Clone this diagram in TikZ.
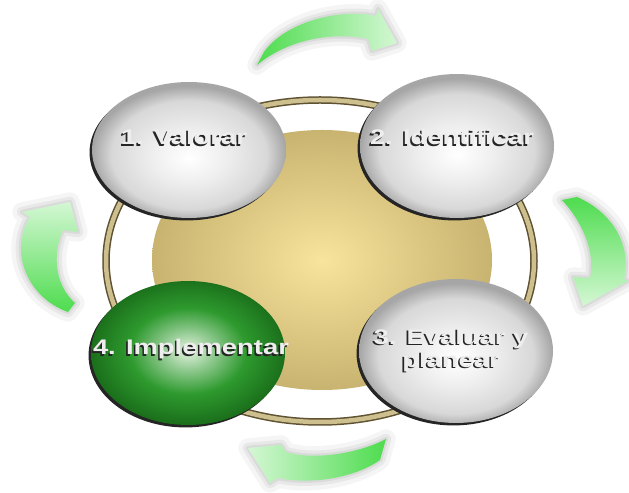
\documentclass[tikz,border=0pt]{standalone}
\usepackage{fontspec}
\newfontfamily\lblfont[FakeStretch=1.3]{Liberation Sans}
\usetikzlibrary{shapes.geometric, calc}
\definecolor{cyGold}{HTML}{F8E49C}
\definecolor{cyGoldDark}{HTML}{C8B370}
\definecolor{cyRim}{HTML}{CDBF8E}
\definecolor{cyRimDark}{HTML}{5E5232}
\definecolor{cyGreen}{HTML}{2E9A2E}
\definecolor{cyGreenDark}{HTML}{1B701B}
\definecolor{cyGreenLight}{HTML}{E6F3E0}
\definecolor{cyGray}{HTML}{D8D8D8}
\definecolor{cyGrayDark}{HTML}{A6A6A6}
\definecolor{cyArrow}{HTML}{4EDC4E}
\definecolor{cyArrowPale}{HTML}{D4F7D4}
\definecolor{cyText}{HTML}{EEEEEE}
\definecolor{cyShadow}{HTML}{252525}
\pgfdeclareradialshading{grayball}{\pgfpoint{0bp}{-3bp}}{color(0bp)=(white); color(10bp)=(cyGray!45!white); color(20bp)=(cyGray); color(25bp)=(cyGrayDark); color(50bp)=(cyGrayDark)}
\pgfdeclareradialshading{greenball}{\pgfpoint{0bp}{1bp}}{color(0bp)=(cyGreenLight); color(7bp)=(cyGreen!55!white); color(15bp)=(cyGreen); color(25bp)=(cyGreenDark); color(50bp)=(cyGreenDark)}
\newcommand\shtext[1]{\rlap{\kern-0.9pt\raisebox{-0.9pt}{\textcolor{cyShadow}{#1}}}#1}
\tikzset{
  ball/.style={ellipse, shade, minimum width=3.88cm, minimum height=2.88cm, inner sep=0pt,
    preaction={fill=cyShadow, transform canvas={xshift=-1.4pt, yshift=-1.4pt}}},
  ballGray/.style={ball, shading=grayball},
  ballGreen/.style={ball, shading=greenball},
  lbl/.style={font=\lblfont\bfseries\fontsize{12}{11}\selectfont, text=cyText,
    align=center, inner sep=0pt},
  rimEdge/.style={draw=cyRimDark, line width=0.15cm},
  rimBand/.style={draw=cyRim, line width=0.09cm},
  cyclearrow/.style={
    preaction={draw=black, opacity=0.04, line width=11pt, line join=round},
    preaction={draw=black, opacity=0.05, line width=6pt, line join=round},
    preaction={draw=black, opacity=0.06, line width=2.5pt, line join=round}}
}
\begin{document}
\begin{tikzpicture}[x=0.02cm, y=0.02cm]
  \fill[white] (0,0) rectangle (629,493);
  \useasboundingbox (0,0) rectangle (629,493);

  % rim and hub
  \draw[rimEdge] (320,232) ellipse (214 and 161);
  \draw[rimBand] (320,232) ellipse (214 and 161);
  \shade[inner color=cyGold, outer color=cyGoldDark] (322,233) ellipse (170 and 130);

  % cycle arrows
  \shade[cyclearrow, left color=cyArrow, right color=cyArrowPale]
    (257,428) -- (264,441) .. controls (285,471) and (340,485) .. (376,477)
    -- (378,484) -- (397,450) -- (372,442) -- (368,454)
    .. controls (335,461) and (290,455) .. (257,428) -- cycle;
  \shade[cyclearrow, top color=cyArrow, bottom color=cyArrowPale]
    (562,293) -- (577,296) .. controls (612,281) and (632,248) .. (624,214)
    -- (628,212) -- (583,187) -- (573,216) -- (590,215)
    .. controls (595,238) and (585,268) .. (562,293) -- cycle;
  \shade[cyclearrow, left color=cyArrowPale, right color=cyArrow]
    (248,45) -- (281,48) -- (286,41) .. controls (310,33) and (355,38) .. (386,54)
    -- (380,33) .. controls (355,15) and (310,8) .. (278,15) -- (270,10) -- cycle;
  \shade[cyclearrow, top color=cyArrowPale, bottom color=cyArrow]
    (30,276) -- (22,281) -- (70,291) -- (78,261) -- (63,263)
    .. controls (52,238) and (55,208) .. (75,190) -- (68,181)
    .. controls (28,195) and (8,241) .. (30,276) -- cycle;

  % steps
  \node[ballGray, minimum height=2.72cm] (valorar) at (189,343) {};
  \node[ballGray] (identificar) at (457,347) {};
  \node[ballGray] (evaluar) at (456,142) {};
  \node[ballGreen] (implementar) at (188,140) {};

  \node[lbl] (valorarLbl) at ($(valorar)+(-5,12)$) {\shtext{1. Valorar}};
  \node[lbl] (identificarLbl) at ($(identificar)+(-5,8)$) {\shtext{2. Identificar}};
  \node[lbl] (evaluarLbl) at ($(evaluar)+(-5,0)$) {\shtext{3. Evaluar y}\\\shtext{planear}};
  \node[lbl] (implementarLbl) at ($(implementar)+(3,3)$) {\shtext{4. Implementar}};
\end{tikzpicture}
\end{document}
